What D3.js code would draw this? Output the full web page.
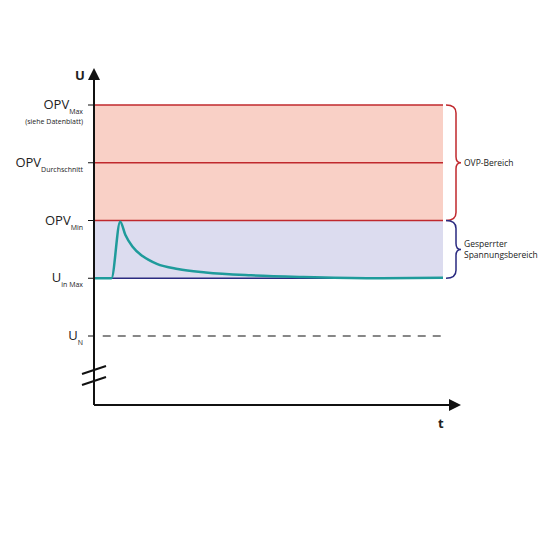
<!DOCTYPE html><html><head><meta charset="utf-8"><script src="https://cdn.jsdelivr.net/npm/d3@7"></script>
<style>body{margin:0;background:#fff}text{font-family:"Open Sans",Lato,sans-serif;fill:#222}</style></head><body><svg id="c" width="540" height="540"></svg><script>
const levelNames=[{m:"U",s:"N"},{m:"U",s:"in Max"},{m:"OPV",s:"Min"},{m:"OPV",s:"Durchschnitt"},{m:"OPV",s:"Max"}];
const levelValues=[1,2,3,4,5];
const curveT=[0,5,7.5,9,11,14,18,24,32,45,60,80,100];
const curveV=[2,2,2.98,2.75,2.55,2.38,2.25,2.16,2.1,2.05,2.02,2.0,2.01];
const regions=["OVP-Bereich","Gesperrter|Spannungsbereich"];
const svg=d3.select("#c");
const x=d3.scaleLinear().domain([0,100]).range([94,443]);
const y=d3.scaleLinear().domain([1,5]).range([336,105]);
svg.append("rect").attr("x",x(0)).attr("width",x(100)-x(0)).attr("y",y(5)).attr("height",y(3)-y(5)).attr("fill","#f9d0c6");
svg.append("rect").attr("x",x(0)).attr("width",x(100)-x(0)).attr("y",y(3)).attr("height",y(2)-y(3)).attr("fill","#dcdcef");
[5,4,3].forEach(v=>svg.append("line").attr("x1",x(0)).attr("x2",x(100)).attr("y1",y(v)).attr("y2",y(v)).attr("stroke","#c0282d").attr("stroke-width",1.5));
svg.append("line").attr("x1",x(0)).attr("x2",x(100)).attr("y1",y(2)).attr("y2",y(2)).attr("stroke","#2a2a80").attr("stroke-width",1.5);
svg.append("line").attr("x1",x(2.5)).attr("x2",x(100)).attr("y1",y(1)).attr("y2",y(1)).attr("stroke","#111").attr("stroke-dasharray","8,7").attr("stroke-width",1.2);
svg.append("path").datum(curveT.map((t,i)=>[t,curveV[i]])).attr("d",d3.line().x(d=>x(d[0])).y(d=>y(d[1])).curve(d3.curveMonotoneX)).attr("fill","none").attr("stroke","#1f9b9b").attr("stroke-width",2.5);
svg.append("defs").append("marker").attr("id","ar").attr("viewBox","0 0 10 10").attr("refX",5).attr("refY",5).attr("markerWidth",6).attr("markerHeight",6).attr("orient","auto").append("path").attr("d","M0,0L10,5L0,10z").attr("fill","#111");
svg.append("line").attr("x1",94).attr("x2",94).attr("y1",405).attr("y2",74).attr("stroke","#111").attr("stroke-width",2).attr("marker-end","url(#ar)");
svg.append("line").attr("x1",94).attr("x2",455).attr("y1",405).attr("y2",405).attr("stroke","#111").attr("stroke-width",2).attr("marker-end","url(#ar)");
svg.append("line").attr("x1",82).attr("x2",106).attr("y1",374).attr("y2",366).attr("stroke","#111").attr("stroke-width",2);
svg.append("line").attr("x1",82).attr("x2",106).attr("y1",385).attr("y2",377).attr("stroke","#111").attr("stroke-width",2);
svg.append("text").attr("x",75).attr("y",80).attr("font-weight","bold").attr("font-size",13).text("U");
svg.append("text").attr("x",438).attr("y",428).attr("font-weight","bold").attr("font-size",13).text("t");
levelValues.forEach((v,i)=>{
 svg.append("line").attr("x1",88).attr("x2",94).attr("y1",y(v)).attr("y2",y(v)).attr("stroke","#111");
 const t=svg.append("text").attr("x",83).attr("y",y(v)+4).attr("text-anchor","end").attr("font-size",13);
 t.append("tspan").text(levelNames[i].m);
 t.append("tspan").attr("dy",5).attr("font-size",7).text(levelNames[i].s);
});
svg.append("text").attr("x",83).attr("y",y(5)+19).attr("text-anchor","end").attr("font-size",7).text("(siehe Datenblatt)");
function brace(y1,y2,col){const xm=446,w=10,m=(y1+y2)/2;
 svg.append("path").attr("d",`M${xm},${y1} Q${xm+w},${y1} ${xm+w},${y1+8} L${xm+w},${m-6} Q${xm+w},${m} ${xm+w+5},${m} Q${xm+w},${m} ${xm+w},${m+6} L${xm+w},${y2-8} Q${xm+w},${y2} ${xm},${y2}`).attr("fill","none").attr("stroke",col).attr("stroke-width",1.5);}
brace(y(5),y(3),"#c0282d");brace(y(3),y(2),"#2a2a80");
svg.append("text").attr("x",464).attr("y",y(4)+3).attr("font-size",8.5).text(regions[0]);
regions[1].split("|").forEach((s,i)=>svg.append("text").attr("x",464).attr("y",y(2.5)-2+i*11).attr("font-size",8.5).text(s));
</script></body></html>
